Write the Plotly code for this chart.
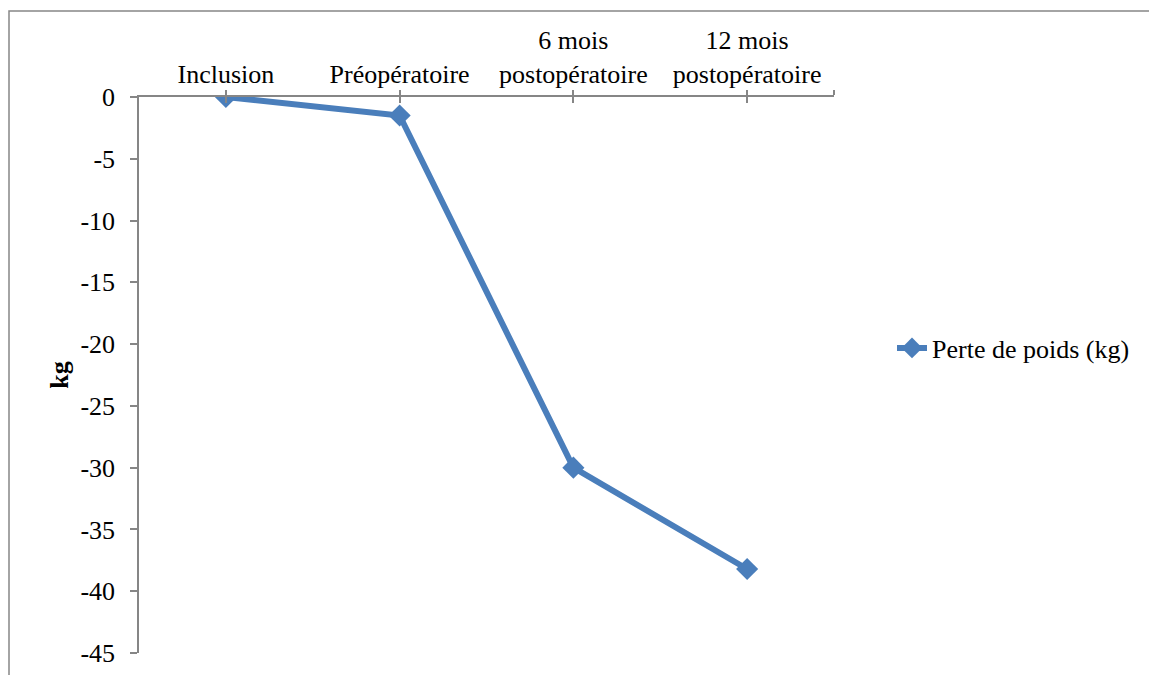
import plotly.graph_objects as go

# Weight loss over follow-up
categories = ["Inclusion", "Préopératoire", "6 mois<br>postopératoire", "12 mois<br>postopératoire"]
weight_loss_kg = [0, -1.5, -30, -38.2]
series_name = "Perte de poids (kg)"
y_ticks = [0, -5, -10, -15, -20, -25, -30, -35, -40, -45]

BLUE = "#4a7ebb"
GREY = "#868686"
FONT = "Liberation Serif"

W, H = 1149, 675
L, R, T, B = 139, 1149 - 834, 97, 22
pw, ph = W - L - R, H - T - B

x_pos = list(range(len(categories)))
x_range = [-0.5, len(categories) - 0.5]

fig = go.Figure()
fig.add_trace(go.Scatter(
    x=x_pos, y=weight_loss_kg, name=series_name, mode="lines+markers",
    line=dict(color=BLUE, width=6),
    marker=dict(symbol="diamond", size=17, color=BLUE),
    showlegend=True,
))

tickvals = x_pos + [x_range[1]]
ticktext = categories + [""]

fig.update_layout(
    width=W, height=H,
    margin=dict(l=L, r=R, t=T, b=B),
    paper_bgcolor="white", plot_bgcolor="white",
    font=dict(family=FONT, size=26, color="black"),
    xaxis=dict(
        side="top", range=x_range, tickvals=tickvals, ticktext=ticktext,
        showgrid=False, zeroline=False, showline=True, linecolor=GREY, linewidth=1.5,
        ticks="outside", ticklen=5, tickcolor=GREY, tickwidth=1.5,
        ticklabelstandoff=-3,
        anchor="y", position=1,
    ),
    xaxis2=dict(
        side="top", range=x_range, tickvals=tickvals, showticklabels=False,
        showgrid=False, zeroline=False, showline=False,
        ticks="inside", ticklen=6, tickcolor=GREY, tickwidth=1.5,
        overlaying="x", anchor="y",
    ),
    yaxis=dict(
        range=[-45, 0], tickvals=y_ticks, ticktext=[str(v) for v in y_ticks],
        showgrid=False, zeroline=False, showline=True, linecolor=GREY, linewidth=1.5,
        ticks="outside", ticklen=7, tickcolor=GREY, tickwidth=1.5,
        ticklabelstandoff=10,
        title=dict(text="<b>kg</b>", standoff=4, font=dict(size=26)),
        automargin=False,
    ),
    legend=dict(
        x=(892 - L) / pw, y=(H - B - 348) / ph, xanchor="left", yanchor="middle",
        bgcolor="rgba(0,0,0,0)", font=dict(size=26),
    ),
    showlegend=True,
)

# empty trace on xaxis2 so its downward ticks are drawn
fig.add_trace(go.Scatter(x=[None], y=[None], xaxis="x2", showlegend=False, hoverinfo="skip"))

# chart area frame
fig.add_shape(
    type="rect", xref="paper", yref="paper",
    x0=(9 - L) / pw, x1=(W + 20 - L) / pw,
    y0=(H - B - (H + 20)) / ph, y1=(H - B - 11) / ph,
    line=dict(color=GREY, width=1.5), fillcolor="rgba(0,0,0,0)", layer="below",
)

fig.write_html("out.html")
